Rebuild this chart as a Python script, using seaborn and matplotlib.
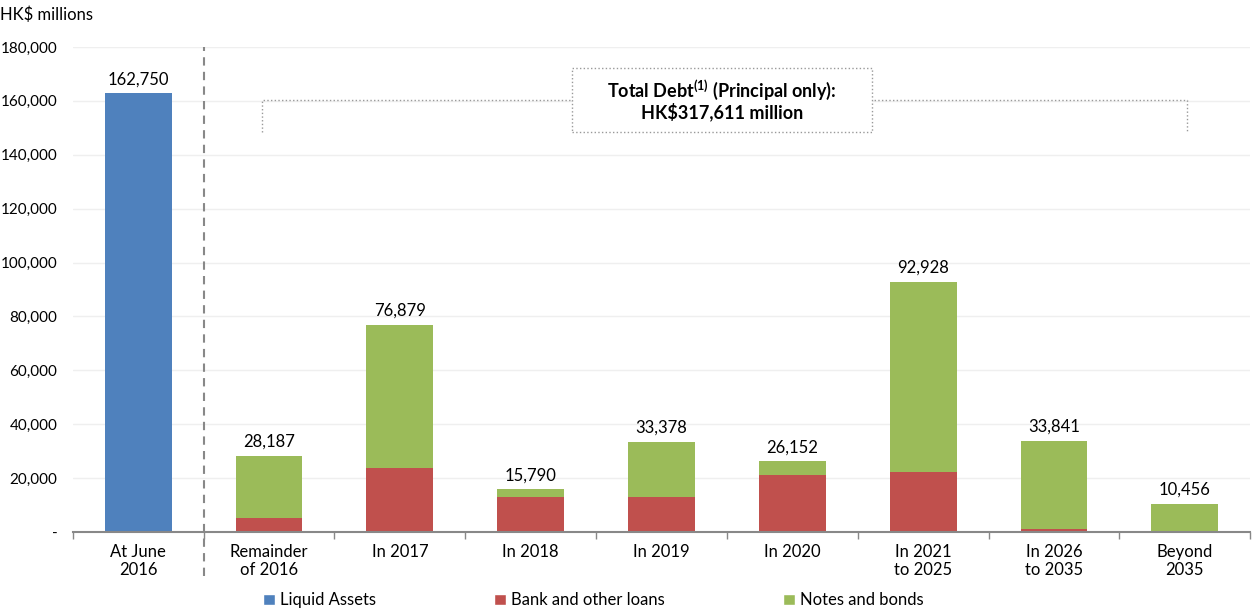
import numpy as np
import pandas as pd
import matplotlib
matplotlib.use("Agg")
import matplotlib.pyplot as plt
from matplotlib.patches import Patch, Rectangle
import seaborn as sns

# data (HK$ millions)
categories = ["At June\n2016", "Remainder\nof 2016", "In 2017", "In 2018", "In 2019",
              "In 2020", "In 2021\nto 2025", "In 2026\nto 2035", "Beyond\n2035"]
liquid_assets = [162750, np.nan, np.nan, np.nan, np.nan, np.nan, np.nan, np.nan, np.nan]
debt_totals = [np.nan, 28187, 76879, 15790, 33378, 26152, 92928, 33841, 10456]
bank_loans = [np.nan, 5000, 23800, 13100, 13100, 21300, 22400, 900, 0]
y_ticks = [0, 20000, 40000, 60000, 80000, 100000, 120000, 140000, 160000, 180000]

BLUE = "#4F81BD"
RED = "#C0504D"
GREEN = "#9BBB59"

sns.set_theme(style="white")
plt.rcParams["font.family"] = ["Lato", "DejaVu Sans"]
plt.rcParams["text.color"] = "black"
plt.rcParams["xtick.color"] = "black"
plt.rcParams["ytick.color"] = "black"
plt.rcParams["mathtext.fontset"] = "custom"
plt.rcParams["mathtext.bf"] = "Lato:bold"

df = pd.DataFrame({"cat": categories, "liquid": liquid_assets,
                   "total": debt_totals, "bank": bank_loans})

fig = plt.figure(figsize=(12.54, 6.10), dpi=100)
ax = fig.add_axes([0.058, 0.128, 0.939, 0.795])

# green = full debt, red drawn over the lower part -> stacked look
sns.barplot(data=df, x="cat", y="total", order=categories, color=GREEN,
            saturation=1, width=0.51, linewidth=0, ax=ax)
sns.barplot(data=df, x="cat", y="bank", order=categories, color=RED,
            saturation=1, width=0.51, linewidth=0, ax=ax)
sns.barplot(data=df, x="cat", y="liquid", order=categories, color=BLUE,
            saturation=1, width=0.51, linewidth=0, ax=ax)

# value labels
for i, cat in enumerate(categories):
    v = liquid_assets[i] if not np.isnan(liquid_assets[i]) else debt_totals[i]
    ax.text(i, v + 2300, f"{int(v):,}", ha="center", va="bottom", fontsize=12)

ax.set_xlim(-0.5, len(categories) - 0.5)
ax.set_ylim(0, 180000)
ax.set_yticks(y_ticks)
ax.set_yticklabels(["-" if t == 0 else f"{t:,}" for t in y_ticks], fontsize=11)
ax.yaxis.grid(True, color="#efefef", linewidth=1)
ax.set_axisbelow(True)
ax.set_xlabel("")
ax.set_ylabel("")
ax.set_xticks(range(len(categories)))
ax.set_xticklabels(categories, fontsize=12, linespacing=1.1)
ax.set_xticks(np.arange(-0.5, len(categories)), minor=True)
ax.tick_params(axis="x", which="major", length=0, pad=9)
ax.tick_params(axis="x", which="minor", length=5, color="#888888", width=1, bottom=True)
ax.tick_params(axis="y", length=0, pad=11)
for s in ["top", "right", "left"]:
    ax.spines[s].set_visible(False)
ax.spines["bottom"].set_color("#888888")
ax.spines["bottom"].set_linewidth(1.5)

fig.text(0.0, 0.975, "HK$ millions", fontsize=12, va="center", ha="left")

# dashed separator between liquid assets and debt
trans = ax.get_xaxis_transform()
ax.plot([0.5, 0.5], [-0.09, 1.0], transform=trans, color="#888888",
        linestyle=(0, (4, 3)), linewidth=1.5, clip_on=False)

# bracket over the debt bars
ax.plot([0.95, 0.95, 8.02, 8.02], [148400, 160200, 160200, 148400],
        color="#999999", linestyle=":", linewidth=1)
ax.add_patch(Rectangle((3.315, 148400), 2.295, 23800, facecolor="white",
                       edgecolor="#999999", linestyle=":", linewidth=1, zorder=3))
ax.text(4.46, 160500, "Total Debt$^{\\mathbf{(1)}}$ (Principal only):\nHK$317,611 million",
        ha="center", va="center", fontsize=13, fontweight="bold", zorder=4,
        linespacing=1.0)

handles = [Patch(facecolor=BLUE, label="Liquid Assets"),
           Patch(facecolor=RED, label="Bank and other loans"),
           Patch(facecolor=GREEN, label="Notes and bonds")]
fig.legend(handles=handles, loc="lower center", bbox_to_anchor=(0.473, -0.022), ncol=3,
           frameon=False, fontsize=12, handlelength=0.7, handleheight=0.7,
           handletextpad=0.3, columnspacing=7.1)

fig.savefig("out.png", dpi=100)
